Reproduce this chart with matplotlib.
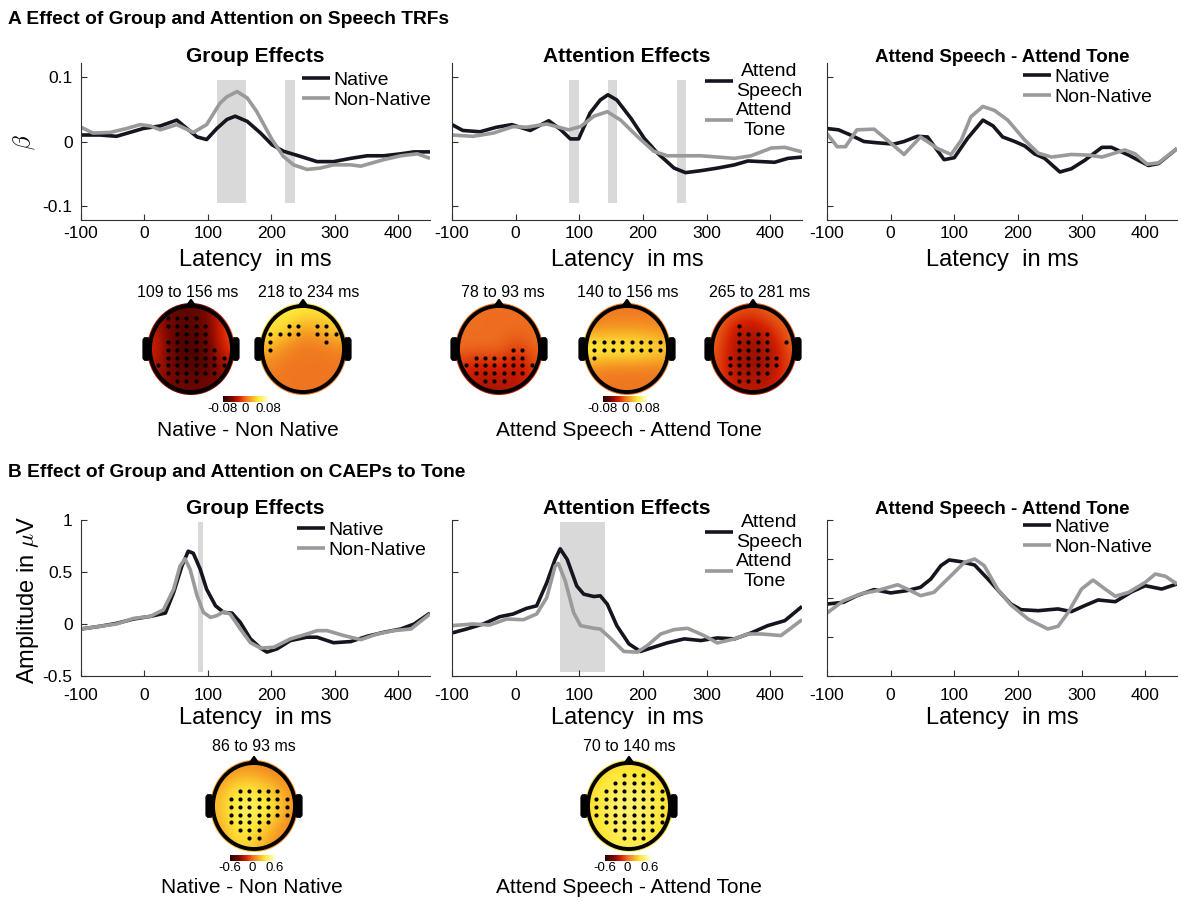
import matplotlib
matplotlib.use('Agg')
import matplotlib.pyplot as plt
import numpy as np
from matplotlib.patches import Ellipse, FancyBboxPatch, Polygon
from matplotlib.colors import LinearSegmentedColormap

plt.rcParams['font.family'] = ['Liberation Sans', 'DejaVu Sans']
plt.rcParams['mathtext.fontset'] = 'cm'
plt.rcParams['axes.unicode_minus'] = False

# ---- A: speech TRFs (beta) ----
trf_grp_nat_ms = [-100, -70, -44, -2, 25, 51, 67, 83, 98, 114, 130, 143, 162, 183, 201, 219, 246, 272, 298, 325, 351, 377, 404, 425, 450]
trf_grp_nat = [0.010, 0.010, 0.008, 0.020, 0.024, 0.033, 0.020, 0.007, 0.003, 0.020, 0.034, 0.039, 0.031, 0.013, -0.005, -0.015, -0.023, -0.031, -0.031, -0.026, -0.022, -0.022, -0.019, -0.016, -0.016]
trf_grp_non_ms = [-100, -81, -54, -28, -7, 9, 25, 51, 77, 98, 119, 130, 146, 162, 177, 201, 219, 235, 256, 277, 298, 325, 341, 377, 404, 430, 450]
trf_grp_non = [0.022, 0.013, 0.014, 0.020, 0.026, 0.024, 0.018, 0.026, 0.014, 0.026, 0.059, 0.069, 0.077, 0.067, 0.046, 0.003, -0.023, -0.036, -0.043, -0.041, -0.036, -0.036, -0.038, -0.028, -0.022, -0.019, -0.026]

trf_att_sp_ms = [-100, -83, -56, -30, -6, 23, 52, 70, 86, 99, 117, 133, 145, 159, 181, 202, 223, 249, 267, 291, 317, 344, 365, 407, 428, 450]
trf_att_sp = [0.026, 0.017, 0.015, 0.022, 0.026, 0.017, 0.032, 0.019, 0.004, 0.004, 0.044, 0.064, 0.072, 0.064, 0.036, 0.005, -0.018, -0.041, -0.048, -0.045, -0.041, -0.036, -0.030, -0.032, -0.026, -0.024]
trf_att_to_ms = [-100, -67, -35, -4, 17, 49, 83, 102, 123, 144, 165, 191, 217, 238, 291, 344, 370, 402, 423, 450]
trf_att_to = [0.010, 0.008, 0.013, 0.023, 0.022, 0.027, 0.018, 0.023, 0.039, 0.046, 0.033, 0.008, -0.015, -0.022, -0.022, -0.026, -0.022, -0.010, -0.009, -0.016]

trf_dif_nat_ms = [-100, -82, -63, -42, -21, 5, 21, 42, 58, 84, 100, 121, 145, 161, 176, 195, 211, 226, 242, 266, 284, 305, 332, 347, 374, 405, 421, 450]
trf_dif_nat = [0.020, 0.018, 0.010, 0.000, -0.002, -0.004, 0.000, 0.008, 0.007, -0.028, -0.025, 0.005, 0.033, 0.024, 0.007, 0.000, -0.007, -0.019, -0.026, -0.047, -0.042, -0.029, -0.009, -0.009, -0.021, -0.037, -0.034, -0.011]
trf_dif_non_ms = [-100, -84, -71, -53, -26, -5, 21, 47, 74, 95, 111, 126, 145, 163, 184, 211, 232, 253, 284, 311, 332, 368, 384, 403, 421, 450]
trf_dif_non = [0.012, -0.008, -0.008, 0.018, 0.019, 0.002, -0.020, 0.007, -0.011, -0.020, 0.002, 0.038, 0.054, 0.048, 0.033, 0.002, -0.018, -0.024, -0.020, -0.021, -0.024, -0.013, -0.019, -0.035, -0.033, -0.011]

trf_grp_sig = [(114, 160), (221, 237)]
trf_att_sig = [(84, 99), (145, 160), (253, 267)]

# ---- B: CAEPs to tone (uV) ----
cae_grp_nat_ms = [-100, -70, -44, -17, 9, 33, 46, 59, 69, 77, 88, 98, 112, 125, 138, 151, 167, 183, 193, 209, 230, 256, 272, 298, 325, 351, 377, 404, 425, 450]
cae_grp_nat = [-0.048, -0.022, 0.006, 0.048, 0.073, 0.105, 0.303, 0.557, 0.700, 0.680, 0.525, 0.334, 0.175, 0.111, 0.105, 0.016, -0.143, -0.232, -0.270, -0.239, -0.159, -0.127, -0.127, -0.180, -0.169, -0.118, -0.080, -0.048, 0.000, 0.105]
cae_grp_non_ms = [-100, -70, -44, -17, 9, 30, 46, 56, 64, 72, 83, 93, 104, 114, 125, 135, 151, 167, 183, 204, 230, 256, 272, 288, 314, 341, 367, 393, 420, 450]
cae_grp_non = [-0.048, -0.022, 0.000, 0.054, 0.073, 0.137, 0.334, 0.557, 0.627, 0.525, 0.270, 0.111, 0.064, 0.080, 0.118, 0.096, -0.048, -0.180, -0.232, -0.223, -0.143, -0.096, -0.064, -0.064, -0.111, -0.150, -0.096, -0.064, -0.048, 0.096]

cae_att_sp_ms = [-100, -77, -51, -25, -4, 17, 33, 49, 62, 70, 81, 96, 107, 123, 133, 144, 159, 178, 196, 217, 238, 265, 291, 317, 344, 370, 396, 423, 450]
cae_att_sp = [-0.086, -0.048, 0.000, 0.070, 0.096, 0.150, 0.175, 0.398, 0.621, 0.723, 0.621, 0.366, 0.287, 0.264, 0.271, 0.191, -0.016, -0.191, -0.264, -0.223, -0.182, -0.143, -0.159, -0.134, -0.143, -0.086, -0.016, 0.032, 0.169]
cae_att_to_ms = [-100, -67, -41, -14, 12, 33, 49, 62, 67, 78, 91, 102, 123, 133, 149, 170, 191, 207, 228, 249, 270, 296, 317, 344, 365, 386, 417, 450]
cae_att_to = [-0.016, 0.000, -0.010, 0.048, 0.041, 0.096, 0.255, 0.557, 0.583, 0.414, 0.111, -0.016, -0.041, -0.048, -0.137, -0.264, -0.271, -0.207, -0.096, -0.054, -0.041, -0.111, -0.182, -0.143, -0.096, -0.096, -0.111, 0.041]

cae_dif_nat_ms = [-100, -74, -53, -26, 0, 26, 47, 63, 79, 92, 111, 132, 153, 174, 189, 205, 232, 263, 284, 305, 326, 353, 379, 400, 426, 450]
cae_dif_nat = [-0.031, -0.022, 0.012, 0.043, 0.026, 0.038, 0.055, 0.097, 0.166, 0.195, 0.186, 0.169, 0.097, 0.021, -0.031, -0.060, -0.065, -0.056, -0.070, -0.039, -0.010, -0.019, 0.032, 0.063, 0.046, 0.072]
cae_dif_non_ms = [-100, -74, -47, -21, 11, 26, 47, 68, 95, 116, 132, 147, 168, 189, 216, 247, 263, 279, 300, 318, 337, 353, 374, 400, 416, 432, 450]
cae_dif_non = [-0.077, -0.014, 0.021, 0.038, 0.068, 0.046, 0.012, 0.029, 0.115, 0.183, 0.200, 0.166, 0.046, -0.036, -0.108, -0.159, -0.145, -0.074, 0.046, 0.092, 0.046, 0.009, 0.029, 0.080, 0.123, 0.111, 0.072]

cae_grp_sig = [(85, 93)]
cae_att_sig = [(70, 140)]

# ---- topographies: coarse fields (front row first) and significant electrodes ----
topo_a_titles = ['109 to 156 ms', '218 to 234 ms', '78 to 93 ms', '140 to 156 ms', '265 to 281 ms']
topo_a1 = [[-0.04, -0.055, -0.06, -0.045, -0.01],
           [-0.025, -0.06, -0.065, -0.05, -0.005],
           [-0.02, -0.06, -0.07, -0.055, -0.01],
           [-0.03, -0.055, -0.065, -0.06, -0.035],
           [-0.04, -0.05, -0.055, -0.05, -0.04]]
topo_a2 = [[0.03, 0.05, 0.045, 0.045, 0.035],
           [0.05, 0.04, 0.015, 0.025, 0.04],
           [0.025, 0.008, 0.003, 0.003, 0.008],
           [0.008, 0.003, 0.003, 0.003, 0.003],
           [0.003, 0.003, 0.003, 0.003, 0.003]]
topo_a3 = [[0.0, 0.0, 0.0, 0.0, 0.0],
           [0.0, 0.0, 0.0, 0.0, 0.0],
           [0.0, 0.0, 0.0, -0.015, 0.0],
           [-0.02, -0.03, -0.02, -0.035, -0.01],
           [-0.02, -0.035, -0.035, -0.03, -0.015]]
topo_a4 = [[0.003, 0.003, 0.003, 0.003, 0.003],
           [0.01, 0.015, 0.015, 0.015, 0.01],
           [0.06, 0.055, 0.055, 0.05, 0.04],
           [0.01, 0.005, 0.005, 0.005, 0.005],
           [0.003, 0.003, 0.003, 0.003, 0.003]]
topo_a5 = [[0.0, -0.005, -0.01, 0.0, 0.0],
           [0.0, -0.03, -0.035, -0.02, 0.0],
           [-0.005, -0.035, -0.04, -0.035, -0.005],
           [-0.01, -0.035, -0.04, -0.035, -0.01],
           [-0.005, -0.03, -0.03, -0.03, -0.005]]
mask_a1 = [".xxxx...", ".xxxxx..", "..xxxx..", ".xxxxx..", ".xxxxxx.",
           ".xxxxxxx", "xxxxxxxx", ".xxxxxx.", "..xxx..."]
mask_a2 = ["........", "..xx.xx.", "xxxx.xxx", "x.....x.", "x.......",
           "........", "........", "........", "........"]
mask_a3 = ["........", "........", "........", "........", ".....xx.",
           ".xxxxxx.", "xxxxxxxx", ".xxxxxx.", "..xxx..."]
mask_a4 = ["........", "........", "........", "xxxxxxxx", "xxxxxxxx",
           "x.......", "........", "........", "........"]
mask_a5 = ["........", "..x.....", "..xxxx..", "..xxxx.x", "..xxxx..",
           ".xxxxxx.", ".xxxxxx.", ".xxxxx..", "..xxx..."]

topo_b_titles = ['86 to 93 ms', '70 to 140 ms']
topo_b1 = [[0.05, 0.08, 0.08, 0.04, 0.04],
           [0.15, 0.32, 0.32, 0.2, 0.08],
           [0.2, 0.42, 0.42, 0.38, 0.12],
           [0.15, 0.38, 0.38, 0.2, 0.05],
           [0.1, 0.3, 0.25, 0.1, 0.05]]
topo_b2 = [[0.2, 0.3, 0.3, 0.3, 0.2],
           [0.3, 0.4, 0.42, 0.4, 0.3],
           [0.3, 0.42, 0.45, 0.42, 0.3],
           [0.3, 0.4, 0.42, 0.4, 0.3],
           [0.25, 0.35, 0.38, 0.35, 0.25]]
mask_b1 = ["........", "........", "..xxxxx.", ".xxxxxxx", ".xxxxxxx",
           ".xxxxxxx", ".xxxxx..", "..xxx...", "...xx..."]
mask_b2 = ["...xxx..", "..xxxxx.", ".xxxxxxx", "xxxxxxxx", "xxxxxxxx",
           "xxxxxxxx", ".xxxxxxx", "..xxxxx.", "...xxx.."]

W, H = 1181, 902
DARK = '#15151f'
GREY = '#9a9a9a'
SHADE = '#d9d9d9'
topo_cmap = LinearSegmentedColormap.from_list(
    'topo', [(0, '#2a0000'), (0.2, '#7a0800'), (0.36, '#d42000'), (0.5, '#ee6e20'),
             (0.62, '#f7a224'), (0.78, '#ffe838'), (1.0, '#ffffd0')])

fig = plt.figure(figsize=(W / 100, H / 100), dpi=100)


def box(x0, y0, x1, y1):
    return [x0 / W, 1 - y1 / H, (x1 - x0) / W, (y1 - y0) / H]


def ftext(x, y, s, **kw):
    return fig.text(x / W, 1 - y / H, s, **kw)


def wave_panel(rect, ylim, yticks, ylabels, series, sig, sig_lim, pad):
    ax = fig.add_axes(rect)
    for a, b in sig:
        ax.fill_between([a, b], sig_lim[0], sig_lim[1], color=SHADE, lw=0, zorder=0)
    handles = []
    for ms, vals, col in series:
        h, = ax.plot(ms, vals, color=col, lw=2.6, solid_joinstyle='round', solid_capstyle='butt')
        handles.append(h)
    ax.set_xlim(-100, 450)
    ax.set_ylim(*ylim)
    ax.set_xticks([-100, 0, 100, 200, 300, 400])
    ax.set_xticklabels(['-100', '0', '100', '200', '300', '400'])
    ax.set_yticks(yticks)
    ax.set_yticklabels(ylabels if ylabels else [''] * len(yticks))
    for s in ('top', 'right'):
        ax.spines[s].set_visible(False)
    for s in ('left', 'bottom'):
        ax.spines[s].set_linewidth(0.8)
        ax.spines[s].set_color('#303030')
    ax.tick_params(direction='in', length=4, width=0.8, labelsize=12.5, color='#303030')
    ax.tick_params(axis='x', pad=pad)
    ax.tick_params(axis='y', pad=6)
    ax.patch.set_alpha(0)
    return ax, handles


def add_legend(ax, handles, labels, x, y):
    leg = ax.legend(handles, labels, loc='upper left', bbox_to_anchor=(x / W, 1 - y / H),
                    bbox_transform=fig.transFigure, frameon=False, fontsize=14,
                    handlelength=1.45, handletextpad=0.15, labelspacing=0.12,
                    borderpad=0, borderaxespad=0)
    for t in leg.get_texts():
        t.set_linespacing(1.2)
        t.set_multialignment('center')


def topo(cx, cy, field, mask, vmin, vmax, rx=41, ry=43):
    ax = fig.add_axes(box(cx - 1.45 * rx, cy - 1.35 * ry, cx + 1.45 * rx, cy + 1.3 * ry))
    im = ax.imshow(np.array(field), cmap=topo_cmap, vmin=vmin, vmax=vmax,
                   extent=(-1.1, 1.1, -1.1, 1.1), interpolation='bicubic', aspect='auto')
    rim = Ellipse((0, 0), 2.14, 2.14, fc='none', ec='none')
    ax.add_patch(rim)
    im.set_clip_path(rim)
    ax.set_xlim(-1.45, 1.45)
    ax.set_ylim(-1.3, 1.35)
    ax.axis('off')
    for s in (-1, 1):
        ax.add_patch(FancyBboxPatch((s * 1.09 - 0.085, -0.27), 0.17, 0.54,
                                    boxstyle='round,pad=0,rounding_size=0.07',
                                    fc='black', ec='black', lw=0.5))
    ax.add_patch(Polygon([(-0.13, 0.975), (0, 1.15), (0.13, 0.975)], closed=True,
                         fc='black', ec='black', lw=1.2))
    ax.add_patch(Ellipse((0, 0), 2, 2, fill=False, lw=2.8, ec='black'))
    gx = np.linspace(-0.8, 0.8, 8)
    gy = np.linspace(0.72, -0.75, 9)
    px, py = [], []
    for r, row in enumerate(mask):
        for c, ch in enumerate(row):
            if ch == 'x' and gx[c] ** 2 + gy[r] ** 2 < 0.95:
                px.append(gx[c])
                py.append(gy[r])
    ax.plot(px, py, 'o', ms=3.0, color='black', mec='none')
    return im


def cbar(im, rect, ticks, labels):
    cax = fig.add_axes(rect)
    cb = fig.colorbar(im, cax=cax, orientation='horizontal', ticks=ticks)
    cb.ax.set_xticklabels(labels)
    cb.outline.set_visible(False)
    cb.ax.tick_params(length=0, labelsize=9.5, pad=1)


cols = [(81, 430), (452, 802), (827, 1177)]
top_y = (63, 220)
bot_y = (520, 676)
trf_lim = (-0.121, 0.121)
trf_ticks = [-0.1, 0, 0.1]
cae_lim = (-0.5, 1.0)
cae_ticks = [-0.5, 0, 0.5, 1]

# ---- row A ----
ftext(8, 24, 'A Effect of Group and Attention on Speech TRFs', fontsize=13.8, fontweight='bold')

ax, hs = wave_panel(box(cols[0][0], top_y[0], cols[0][1], top_y[1]), trf_lim, trf_ticks,
                    ['-0.1', '0', '0.1'],
                    [(trf_grp_nat_ms, trf_grp_nat, DARK), (trf_grp_non_ms, trf_grp_non, GREY)],
                    trf_grp_sig, (-0.095, 0.095), 4.5)
add_legend(ax, hs, ['Native', 'Non-Native'], 302, 71)
ax, hs = wave_panel(box(cols[1][0], top_y[0], cols[1][1], top_y[1]), trf_lim, trf_ticks, None,
                    [(trf_att_sp_ms, trf_att_sp, DARK), (trf_att_to_ms, trf_att_to, GREY)],
                    trf_att_sig, (-0.095, 0.095), 4.5)
add_legend(ax, hs, ['Attend\nSpeech', 'Attend\nTone'], 705, 63)
ax, hs = wave_panel(box(cols[2][0], top_y[0], cols[2][1], top_y[1]), trf_lim, trf_ticks, None,
                    [(trf_dif_nat_ms, trf_dif_nat, DARK), (trf_dif_non_ms, trf_dif_non, GREY)],
                    [], (0, 0), 4.5)
add_legend(ax, hs, ['Native', 'Non-Native'], 1023, 68)

titles_top = ['Group Effects', 'Attention Effects', 'Attend Speech - Attend Tone']
sizes_top = [15, 15, 13.5]
for (x0, x1), t, fs in zip(cols, titles_top, sizes_top):
    ftext((x0 + x1) / 2, 62, t, fontsize=fs, fontweight='bold', ha='center', va='baseline')
    ftext((x0 + x1) / 2, 266, 'Latency  in ms', fontsize=17, ha='center', va='baseline')
ftext(24, 142, r'$\beta$', fontsize=17, ha='center', va='center', rotation=90)

# topographies A
centers_a = [191, 303, 499, 627, 753]
label_x_a = [188, 309, 503, 628, 760]
fields_a = [topo_a1, topo_a2, topo_a3, topo_a4, topo_a5]
masks_a = [mask_a1, mask_a2, mask_a3, mask_a4, mask_a5]
ims = []
for cx, lx, fld, msk, ttl in zip(centers_a, label_x_a, fields_a, masks_a, topo_a_titles):
    ims.append(topo(cx, 349, fld, msk, -0.08, 0.08))
    ftext(lx, 297, ttl, fontsize=11.5, ha='center', va='baseline')
cbar(ims[0], box(223, 396, 268, 402), [-0.08, 0, 0.08], ['-0.08', '0', '0.08'])
cbar(ims[3], box(603, 396, 647, 402), [-0.08, 0, 0.08], ['-0.08', '0', '0.08'])
ftext(248, 436, 'Native - Non Native', fontsize=15, ha='center', va='baseline')
ftext(629, 436, 'Attend Speech - Attend Tone', fontsize=15, ha='center', va='baseline')

# ---- row B ----
ftext(8, 477, 'B Effect of Group and Attention on CAEPs to Tone', fontsize=13.8, fontweight='bold')

ax, hs = wave_panel(box(cols[0][0], bot_y[0], cols[0][1], bot_y[1]), cae_lim, cae_ticks,
                    ['-0.5', '0', '0.5', '1'],
                    [(cae_grp_nat_ms, cae_grp_nat, DARK), (cae_grp_non_ms, cae_grp_non, GREY)],
                    cae_grp_sig, (-0.46, 0.98), 9)
add_legend(ax, hs, ['Native', 'Non-Native'], 297, 521)
ax, hs = wave_panel(box(cols[1][0], bot_y[0], cols[1][1], bot_y[1]), cae_lim, cae_ticks, None,
                    [(cae_att_sp_ms, cae_att_sp, DARK), (cae_att_to_ms, cae_att_to, GREY)],
                    cae_att_sig, (-0.46, 0.98), 9)
add_legend(ax, hs, ['Attend\nSpeech', 'Attend\nTone'], 705, 514)
ax, hs = wave_panel(box(cols[2][0], bot_y[0], cols[2][1], bot_y[1]), (-0.4, 0.4),
                    [-0.4, -0.2, 0, 0.2, 0.4], None,
                    [(cae_dif_nat_ms, cae_dif_nat, DARK), (cae_dif_non_ms, cae_dif_non, GREY)],
                    [], (0, 0), 9)
add_legend(ax, hs, ['Native', 'Non-Native'], 1023, 518)

for (x0, x1), t, fs in zip(cols, titles_top, sizes_top):
    ftext((x0 + x1) / 2, 514, t, fontsize=fs, fontweight='bold', ha='center', va='baseline')
    ftext((x0 + x1) / 2, 724, 'Latency  in ms', fontsize=17, ha='center', va='baseline')
ftext(28, 600, r'Amplitude in $\mu$V', fontsize=17, ha='center', va='center', rotation=90)

centers_b = [254, 629]
fields_b = [topo_b1, topo_b2]
masks_b = [mask_b1, mask_b2]
ims = []
for cx, fld, msk, ttl in zip(centers_b, fields_b, masks_b, topo_b_titles):
    ims.append(topo(cx, 806, fld, msk, -0.6, 0.6))
    ftext(cx, 751, ttl, fontsize=11.5, ha='center', va='baseline')
cbar(ims[0], box(230, 855, 275, 861), [-0.6, 0, 0.6], ['-0.6', '0', '0.6'])
cbar(ims[1], box(605, 855, 650, 861), [-0.6, 0, 0.6], ['-0.6', '0', '0.6'])
ftext(252, 893, 'Native - Non Native', fontsize=15, ha='center', va='baseline')
ftext(629, 893, 'Attend Speech - Attend Tone', fontsize=15, ha='center', va='baseline')

fig.savefig('out.png', dpi=100)
